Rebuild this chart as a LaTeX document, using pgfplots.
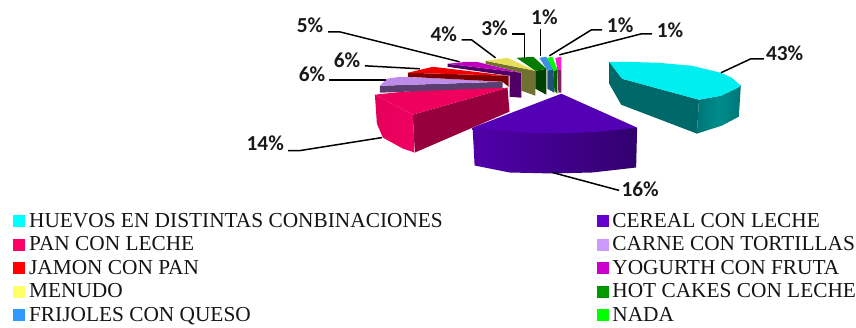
\documentclass[border=0pt]{standalone}
\usepackage{pgfplots}
\pgfplotsset{compat=1.18}
\usepackage{fontspec}
\setmainfont{Liberation Serif}
\newfontfamily\lab{Carlito}
\definecolor{pandk}{RGB}{150,0,60}
\definecolor{panl}{RGB}{228,0,88}
\definecolor{panr}{RGB}{240,0,100}
\definecolor{pant}{RGB}{238,0,92}
\definecolor{cardk}{RGB}{90,62,112}
\definecolor{cart}{RGB}{190,140,232}
\definecolor{jamdk}{RGB}{125,0,0}
\definecolor{jamt}{RGB}{240,0,0}
\definecolor{yogdk}{RGB}{80,0,100}
\definecolor{yogt}{RGB}{190,0,190}
\definecolor{mendk}{RGB}{112,112,48}
\definecolor{ment}{RGB}{232,224,90}
\definecolor{hotdk}{RGB}{0,64,0}
\definecolor{hott}{RGB}{0,125,0}
\definecolor{fridk}{RGB}{32,80,128}
\definecolor{frit}{RGB}{60,144,224}
\definecolor{naddk}{RGB}{0,96,0}
\definecolor{nadt}{RGB}{0,250,0}
\definecolor{otrdk}{RGB}{128,32,96}
\definecolor{otrt}{RGB}{250,32,208}
\definecolor{cerl}{RGB}{80,0,170}
\definecolor{cerr}{RGB}{50,0,110}
\definecolor{cert}{RGB}{84,0,180}
\definecolor{huedk}{RGB}{0,104,104}
\definecolor{huem}{RGB}{0,140,140}
\definecolor{huee}{RGB}{0,118,118}
\definecolor{huet}{RGB}{0,238,240}
\definecolor{k1}{RGB}{0,255,255}
\definecolor{k2}{RGB}{255,0,102}
\definecolor{k3}{RGB}{255,0,0}
\definecolor{k4}{RGB}{255,255,102}
\definecolor{k5}{RGB}{51,153,255}
\definecolor{k6}{RGB}{102,0,204}
\definecolor{k7}{RGB}{204,153,255}
\definecolor{k8}{RGB}{204,0,204}
\definecolor{k9}{RGB}{0,153,0}
\definecolor{k10}{RGB}{0,255,0}
\tikzset{
  face/.style={draw=none,fill=#1},
  ld/.style={draw=black,line width=1.5pt},
  pct/.style={font=\lab\bfseries\fontsize{21.4}{24}\selectfont,text=black!90,inner sep=0pt},
  lg/.style={font=\fontsize{21.4}{24}\selectfont,text=black!92,anchor=base west,inner sep=0pt},
  key/.style={only marks,mark=square*,mark size=5.5pt,color=#1,mark options={line width=0pt}}}
\begin{document}
\begin{tikzpicture}[x=1pt,y=1pt]
\begin{axis}[scale only axis,width=856pt,height=328pt,xmin=-1,xmax=855,ymin=-1,ymax=327,y dir=reverse,hide axis,clip=false]
% pan
\addplot[face=pandk] coordinates {(413,114)(508,87)(510,111)(415,152)} -- cycle;
\addplot[draw=none,left color=panl,right color=panr] coordinates {(375,94)(413,114)(415,152)(403,148)(383,137)(377,123)} -- cycle;
\addplot[face=pant] coordinates {(508,87)(413,114)(375,94)(393,92)(440,88)} -- cycle;
% carne
\addplot[face=cardk] coordinates {(380,85)(503,81)(503,87)(380,92)} -- cycle;
\addplot[face=cart] coordinates {(380,85)(387,78)(400,76)(427,77)(503,81)} -- cycle;
% jamon
\addplot[face=jamdk] coordinates {(408,72)(509,75)(509,86)(503,81)(408,76)} -- cycle;
\addplot[face=jamt] coordinates {(408,72)(433,66)(450,68)(509,75)} -- cycle;
% yogurth
\addplot[face=yogdk] coordinates {(448,63)(522,72)(522,97)(510,96)(510,75)(448,66)} -- cycle;
\addplot[face=yogt] coordinates {(448,63)(467,61)(477,61)(522,72)} -- cycle;
% menudo
\addplot[face=mendk] coordinates {(486,60)(536,70)(536,95)(522,90)(522,72)(486,63)} -- cycle;
\addplot[face=ment] coordinates {(486,60)(508,57)(536,70)} -- cycle;
% hot cakes
\addplot[face=hotdk] coordinates {(536,70)(547,68)(547,94)(536,88)} -- cycle;
\addplot[face=hott] coordinates {(517,57)(534,56)(547,68)(536,70)} -- cycle;
% frijoles
\addplot[face=fridk] coordinates {(548,70)(554,68)(555,92)(548,88)} -- cycle;
\addplot[face=frit] coordinates {(540,57)(547,56)(554,68)(548,70)} -- cycle;
% nada
\addplot[face=naddk] coordinates {(554,70)(558,69)(558,93)(555,90)} -- cycle;
\addplot[face=nadt] coordinates {(548,57)(553,56)(558,69)(554,70)} -- cycle;
% otros
\addplot[face=otrdk] coordinates {(558,69)(562,69)(562,92)(559,92)} -- cycle;
\addplot[face=otrt] coordinates {(556,57)(562,56)(562,69)(558,69)} -- cycle;
% cereal
\addplot[draw=none,left color=cerl,right color=cerr] coordinates {(473,127)(475,165)(510,172)(553,173)(593,172)(637,167)(638,127)} -- cycle;
\addplot[face=cert] coordinates {(562,93)(638,127)(600,131)(560,133)(520,132)(473,127)} -- cycle;
% huevos
\addplot[face=huedk] coordinates {(610,61)(610,83)(622,104)(698,133)(700,99)(623,78)} -- cycle;
\addplot[draw=none,left color=huee,right color=huee,middle color=huem] coordinates {(700,99)(722,95)(737,88)(742,85)(740,116)(723,125)(698,133)} -- cycle;
\addplot[face=huet] coordinates {(610,61)(623,78)(700,99)(722,95)(737,88)(742,85)(733,77)(722,72)(693,65)(660,62)(627,61)} -- cycle;
% leader lines
\addplot[ld] coordinates {(722,72)(752,58)(765,58)};
\addplot[ld] coordinates {(553,172)(620,190)};
\addplot[ld] coordinates {(382,137)(300,150)(288,150)};
\addplot[ld] coordinates {(386,79)(329,79)};
\addplot[ld] coordinates {(420,68)(365,65)};
\addplot[ld] coordinates {(460,61)(340,31)(328,31)};
\addplot[ld] coordinates {(496,57)(472,39)(462,39)};
\addplot[ld] coordinates {(525,57)(525,33)(513,33)};
\addplot[ld] coordinates {(541,55)(541,28)};
\addplot[ld] coordinates {(550,55)(592,29)(603,29)};
\addplot[ld] coordinates {(560,54)(642,33)(653,33)};
% percentages
\node[pct] at (axis cs:786,52) {43\%};
\node[pct] at (axis cs:641,189) {16\%};
\node[pct] at (axis cs:265,143) {14\%};
\node[pct] at (axis cs:312,73) {6\%};
\node[pct] at (axis cs:347,59) {6\%};
\node[pct] at (axis cs:310,24) {5\%};
\node[pct] at (axis cs:444,33) {4\%};
\node[pct] at (axis cs:495,27) {3\%};
\node[pct] at (axis cs:545,16) {1\%};
\node[pct] at (axis cs:621,24) {1\%};
\node[pct] at (axis cs:671,29) {1\%};
% legend keys
\addplot[key=k1] coordinates {(18.5,220.5)};
\addplot[key=k2] coordinates {(18.5,244.3)};
\addplot[key=k3] coordinates {(18.5,268)};
\addplot[key=k4] coordinates {(18.5,291.7)};
\addplot[key=k5] coordinates {(18.5,315)};
\addplot[key=k6] coordinates {(603.5,220.5)};
\addplot[key=k7] coordinates {(603.5,244.3)};
\addplot[key=k8] coordinates {(603.5,268)};
\addplot[key=k9] coordinates {(603.5,291.7)};
\addplot[key=k10] coordinates {(603.5,315)};
\node[lg] at (axis cs:28,226.7) {HUEVOS EN DISTINTAS CONBINACIONES};
\node[lg] at (axis cs:28,250.5) {PAN CON LECHE};
\node[lg] at (axis cs:28,274.5) {JAMON CON PAN};
\node[lg] at (axis cs:28,297.7) {MENUDO};
\node[lg] at (axis cs:28,321.3) {FRIJOLES CON QUESO};
\node[lg] at (axis cs:613,226.7) {CEREAL CON LECHE};
\node[lg] at (axis cs:613,250.5) {CARNE CON TORTILLAS};
\node[lg] at (axis cs:613,274.5) {YOGURTH CON FRUTA};
\node[lg] at (axis cs:613,297.7) {HOT CAKES CON LECHE};
\node[lg] at (axis cs:613,321.3) {NADA};
\path[use as bounding box] (axis cs:-1,-1) rectangle (axis cs:855,327);
\end{axis}
\end{tikzpicture}
\end{document}
